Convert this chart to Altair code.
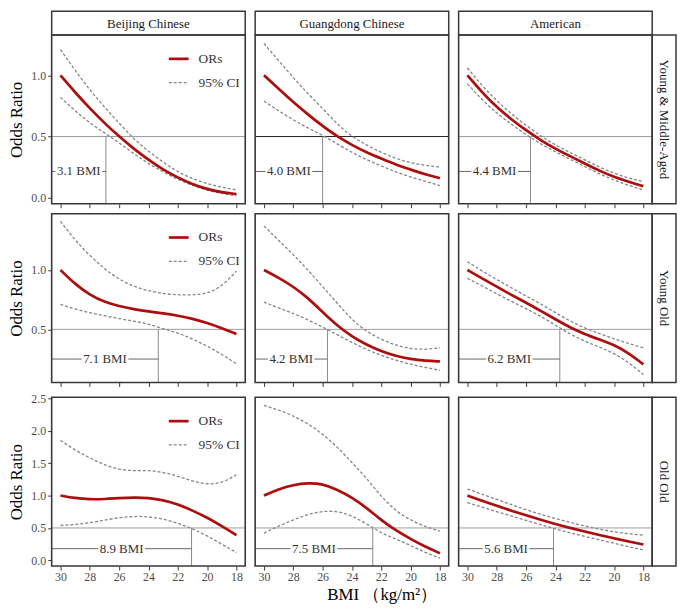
import altair as alt
import pandas as pd

# ---------------- data ----------------
BMI = [30, 29, 28, 27, 26, 25, 24, 23, 22, 21, 20, 19, 18]

COLUMNS = ["Beijing Chinese", "Guangdong Chinese", "American"]
ROWS = ["Young & Middle-Aged", "Young Old", "Old Old"]

# Young & Middle-Aged
BJ_YM_OR = [1.00, 0.86, 0.73, 0.61, 0.50, 0.40, 0.31, 0.23, 0.165, 0.11, 0.07, 0.045, 0.03]
BJ_YM_UP = [1.21, 1.04, 0.88, 0.74, 0.61, 0.48, 0.38, 0.29, 0.21, 0.155, 0.115, 0.085, 0.065]
BJ_YM_LO = [0.82, 0.71, 0.61, 0.53, 0.45, 0.36, 0.28, 0.21, 0.15, 0.10, 0.06, 0.035, 0.015]
GD_YM_OR = [1.00, 0.89, 0.78, 0.68, 0.585, 0.50, 0.43, 0.37, 0.32, 0.27, 0.23, 0.19, 0.16]
GD_YM_UP = [1.26, 1.12, 0.98, 0.85, 0.73, 0.60, 0.50, 0.43, 0.37, 0.32, 0.285, 0.265, 0.25]
GD_YM_LO = [0.79, 0.71, 0.635, 0.57, 0.51, 0.44, 0.37, 0.31, 0.26, 0.21, 0.17, 0.135, 0.10]
US_YM_OR = [1.00, 0.86, 0.74, 0.64, 0.55, 0.47, 0.40, 0.34, 0.28, 0.22, 0.17, 0.13, 0.095]
US_YM_UP = [1.06, 0.915, 0.79, 0.685, 0.59, 0.505, 0.43, 0.37, 0.31, 0.25, 0.20, 0.16, 0.13]
US_YM_LO = [0.93, 0.80, 0.69, 0.60, 0.515, 0.44, 0.375, 0.315, 0.255, 0.195, 0.145, 0.10, 0.065]

# Young Old
BJ_YO_OR = [1.00, 0.88, 0.79, 0.73, 0.695, 0.67, 0.65, 0.635, 0.615, 0.59, 0.555, 0.51, 0.46]
BJ_YO_UP = [1.41, 1.25, 1.12, 1.01, 0.92, 0.86, 0.825, 0.80, 0.79, 0.79, 0.80, 0.86, 0.99]
BJ_YO_LO = [0.71, 0.67, 0.64, 0.615, 0.59, 0.57, 0.545, 0.505, 0.47, 0.42, 0.36, 0.29, 0.21]
GD_YO_OR = [1.00, 0.935, 0.86, 0.765, 0.645, 0.53, 0.44, 0.37, 0.315, 0.275, 0.25, 0.235, 0.23]
GD_YO_UP = [1.37, 1.25, 1.13, 1.00, 0.86, 0.72, 0.58, 0.48, 0.415, 0.365, 0.335, 0.33, 0.345]
GD_YO_LO = [0.73, 0.68, 0.635, 0.58, 0.52, 0.455, 0.39, 0.33, 0.28, 0.24, 0.205, 0.18, 0.155]
US_YO_OR = [1.00, 0.93, 0.86, 0.79, 0.725, 0.655, 0.585, 0.515, 0.46, 0.415, 0.37, 0.30, 0.205]
US_YO_UP = [1.07, 0.99, 0.92, 0.85, 0.78, 0.715, 0.64, 0.57, 0.51, 0.465, 0.42, 0.38, 0.345]
US_YO_LO = [0.93, 0.865, 0.80, 0.735, 0.675, 0.61, 0.535, 0.46, 0.40, 0.35, 0.30, 0.22, 0.12]

# Old Old
BJ_OO_OR = [1.00, 0.96, 0.94, 0.945, 0.96, 0.97, 0.965, 0.93, 0.865, 0.77, 0.66, 0.53, 0.39]
BJ_OO_UP = [1.85, 1.70, 1.58, 1.47, 1.40, 1.38, 1.39, 1.36, 1.30, 1.22, 1.17, 1.19, 1.32]
BJ_OO_LO = [0.54, 0.55, 0.58, 0.62, 0.66, 0.68, 0.675, 0.64, 0.575, 0.49, 0.38, 0.25, 0.12]
GD_OO_OR = [1.00, 1.10, 1.165, 1.195, 1.18, 1.09, 0.97, 0.81, 0.62, 0.46, 0.33, 0.21, 0.11]
GD_OO_UP = [2.39, 2.32, 2.23, 2.11, 1.95, 1.75, 1.51, 1.27, 0.98, 0.76, 0.62, 0.52, 0.45]
GD_OO_LO = [0.42, 0.53, 0.625, 0.71, 0.76, 0.76, 0.69, 0.565, 0.42, 0.33, 0.23, 0.12, 0.035]
US_OO_OR = [1.00, 0.92, 0.84, 0.765, 0.695, 0.625, 0.56, 0.50, 0.445, 0.39, 0.34, 0.29, 0.245]
US_OO_UP = [1.10, 1.02, 0.94, 0.86, 0.78, 0.71, 0.645, 0.585, 0.53, 0.48, 0.44, 0.41, 0.39]
US_OO_LO = [0.89, 0.82, 0.75, 0.685, 0.615, 0.55, 0.485, 0.425, 0.37, 0.315, 0.265, 0.21, 0.16]

SERIES = [
    [(BJ_YM_OR, BJ_YM_UP, BJ_YM_LO), (GD_YM_OR, GD_YM_UP, GD_YM_LO), (US_YM_OR, US_YM_UP, US_YM_LO)],
    [(BJ_YO_OR, BJ_YO_UP, BJ_YO_LO), (GD_YO_OR, GD_YO_UP, GD_YO_LO), (US_YO_OR, US_YO_UP, US_YO_LO)],
    [(BJ_OO_OR, BJ_OO_UP, BJ_OO_LO), (GD_OO_OR, GD_OO_UP, GD_OO_LO), (US_OO_OR, US_OO_UP, US_OO_LO)],
]

THRESHOLD = 0.5
CUTS = [[26.9, 26.0, 25.7], [23.33, 25.67, 23.7], [21.06, 22.58, 24.13]]
CUT_LABELS = [["3.1 BMI", "4.0 BMI", "4.4 BMI"],
              ["7.1 BMI", "4.2 BMI", "6.2 BMI"],
              ["8.9 BMI", "7.5 BMI", "5.6 BMI"]]
ARROW_Y = [0.215, 0.25, 0.18]

Y_DOMAINS = [[-0.049, 1.329], [0.053, 1.474], [-0.088, 2.515]]
Y_TICKS = [[0.0, 0.5, 1.0], [0.5, 1.0], [0.0, 0.5, 1.0, 1.5, 2.0, 2.5]]
X_DOMAIN = [17.4, 30.6]
X_TICKS = [30, 28, 26, 24, 22, 20, 18]
LEGEND_LABELS = ["ORs", "95% CI"]
X_TITLE = "BMI （kg/m²）"
Y_TITLE = "Odds Ratio"

# ---------------- style ----------------
W, H, S = 195, 170, 24
FONT = "Liberation Serif, Times New Roman, DejaVu Serif, serif"
RED = "#AD0D0D"
GREY = "#858585"
REF = "#9c9c9c"
BORDER = "#383838"
TXT = "#333333"
CURVE = "basis"

ONE = pd.DataFrame({"k": [0]})


def panel(r, c):
    top = S if r == 0 else 0
    orv, up, lo = SERIES[r][c]
    n = len(BMI)
    df = pd.DataFrame({
        "bmi": BMI * 3,
        "value": orv + up + lo,
        "series": ["OR"] * n + ["Upper"] * n + ["Lower"] * n,
    })
    xs = alt.Scale(domain=X_DOMAIN, reverse=True, range=[0, W], nice=False, zero=False)
    ys = alt.Scale(domain=Y_DOMAINS[r], range=[top + H, top], nice=False, zero=False)
    bottom = r == 2
    xkw = dict(values=X_TICKS, format="d", labels=bottom, domain=False, grid=False,
               ticks=True, tickSize=4, tickColor=BORDER, tickWidth=1,
               labelFont=FONT, labelFontSize=12, labelColor="#4d4d4d", labelPadding=2)
    if bottom and c == 1:
        xkw.update(title=X_TITLE, titleFont=FONT, titleFontSize=17, titleFontWeight="normal",
                   titleColor="#000000", titlePadding=4, titleX=W / 2 + 30)
    else:
        xkw.update(title=None)
    xaxis = alt.Axis(**xkw)
    if c == 0:
        yaxis = alt.Axis(values=Y_TICKS[r], format=".1f", domain=False, grid=False,
                         ticks=True, tickSize=4, tickColor=BORDER, tickWidth=1,
                         labelFont=FONT, labelFontSize=12, labelColor="#4d4d4d", labelPadding=2,
                         title=Y_TITLE, titleFont=FONT, titleFontSize=17, titleFontWeight="normal",
                         titleColor="#000000", titlePadding=5)
    else:
        yaxis = None

    def X(f):
        return alt.X(f"{f}:Q", scale=xs, axis=xaxis)

    def Y(f):
        return alt.Y(f"{f}:Q", scale=ys, axis=yaxis)

    layers = []
    href = alt.Chart(pd.DataFrame({"xa": [X_DOMAIN[0]], "xb": [X_DOMAIN[1]], "y": [THRESHOLD]})).mark_rule(
        color=("#222222" if (r == 0 and c == 1) else REF), strokeWidth=1
    ).encode(x=X("xa"), x2="xb:Q", y=Y("y"))
    layers.append(href)

    cut = CUTS[r][c]
    vrule = alt.Chart(pd.DataFrame({"x": [cut], "y1": [Y_DOMAINS[r][0]], "y2": [THRESHOLD]})).mark_rule(
        color="#8a8a8a", strokeWidth=1
    ).encode(x=X("x"), y=Y("y1"), y2="y2:Q")
    layers.append(vrule)

    xl = X_DOMAIN[1]
    center = (xl + cut) / 2
    half = 23.5 / (W / (X_DOMAIN[1] - X_DOMAIN[0]))
    adf = pd.DataFrame({"xa": [xl, center - half], "xb": [center + half, cut], "y": [ARROW_Y[r]] * 2})
    arrow = alt.Chart(adf).mark_rule(color="#666666", strokeWidth=1).encode(
        x=X("xa"), x2="xb:Q", y=Y("y"))
    layers.append(arrow)
    ldf = pd.DataFrame({"x": [center], "y": [ARROW_Y[r]], "t": [CUT_LABELS[r][c]]})
    label = alt.Chart(ldf).mark_text(font=FONT, fontSize=13, color=TXT, baseline="middle").encode(
        x=X("x"), y=Y("y"), text="t:N")
    layers.append(label)

    ci = alt.Chart(df).transform_filter("datum.series != 'OR'").mark_line(
        color=GREY, strokeDash=[3, 2], strokeWidth=1.3, interpolate=CURVE
    ).encode(x=X("bmi"), y=Y("value"), detail="series:N")
    orl = alt.Chart(df).transform_filter("datum.series == 'OR'").mark_line(
        color=RED, strokeWidth=2.7, interpolate=CURVE
    ).encode(x=X("bmi"), y=Y("value"))
    layers += [ci, orl]

    if c == 0:
        ly1, ly2 = top + 24, top + 48
        layers.append(alt.Chart(ONE).mark_rule(color=RED, strokeWidth=2.7).encode(
            x=alt.value(118), x2=alt.value(138), y=alt.value(ly1)))
        layers.append(alt.Chart(ONE).mark_rule(color=GREY, strokeWidth=1.3, strokeDash=[3, 2]).encode(
            x=alt.value(118), x2=alt.value(138), y=alt.value(ly2)))
        layers.append(alt.Chart(ONE).mark_text(font=FONT, fontSize=13.5, color=TXT, align="left",
                                               baseline="middle").encode(
            x=alt.value(148), y=alt.value(ly1), text=alt.value(LEGEND_LABELS[0])))
        layers.append(alt.Chart(ONE).mark_text(font=FONT, fontSize=13.5, color=TXT, align="left",
                                               baseline="middle").encode(
            x=alt.value(148), y=alt.value(ly2), text=alt.value(LEGEND_LABELS[1])))

    if r == 0:
        layers.append(alt.Chart(ONE).mark_rect(fill="white", stroke=BORDER, strokeWidth=1.5).encode(
            x=alt.value(0), x2=alt.value(W), y=alt.value(0), y2=alt.value(S)))
        layers.append(alt.Chart(ONE).mark_text(font=FONT, fontSize=13, color="#1a1a1a",
                                               baseline="middle").encode(
            x=alt.value(W / 2), y=alt.value(S / 2 + 1), text=alt.value(COLUMNS[c])))
    if c == 2:
        layers.append(alt.Chart(ONE).mark_rect(fill="white", stroke=BORDER, strokeWidth=1.5).encode(
            x=alt.value(W), x2=alt.value(W + S), y=alt.value(top), y2=alt.value(top + H)))
        layers.append(alt.Chart(ONE).mark_text(font=FONT, fontSize=13, color="#1a1a1a", angle=90,
                                               baseline="middle").encode(
            x=alt.value(W + S / 2), y=alt.value(top + H / 2), text=alt.value(ROWS[r])))

    layers.append(alt.Chart(ONE).mark_rect(fillOpacity=0, stroke=BORDER, strokeWidth=1.6).encode(
        x=alt.value(0), x2=alt.value(W), y=alt.value(top), y2=alt.value(top + H)))

    return alt.layer(*layers).properties(width=W + (S if c == 2 else 0), height=H + top)


rows = [alt.hconcat(*[panel(r, c) for c in range(3)], spacing=8) for r in range(3)]
chart = alt.vconcat(*rows, spacing=4).properties(padding=0).configure(font=FONT).configure_view(stroke=None)

chart.save("out.html", embed_options={"renderer": "svg", "actions": False})
